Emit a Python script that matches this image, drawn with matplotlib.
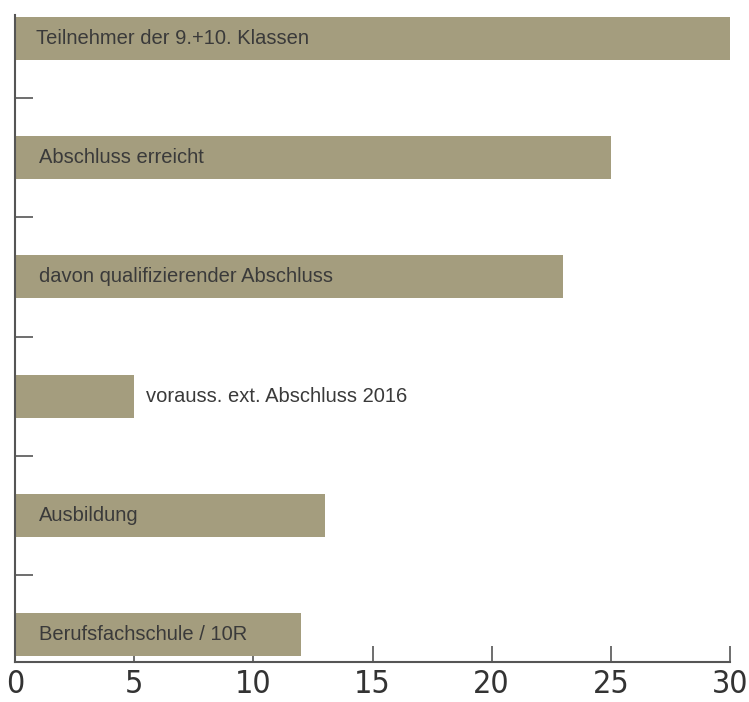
import matplotlib
matplotlib.use("Agg")
import matplotlib.pyplot as plt

categories = ["Teilnehmer der 9.+10. Klassen", "Abschluss erreicht",
              "davon qualifizierender Abschluss", "vorauss. ext. Abschluss 2016",
              "Ausbildung", "Berufsfachschule / 10R"]
values = [30, 25, 23, 5, 13, 12]
xticks = [0, 5, 10, 15, 20, 25, 30]

fig = plt.figure(figsize=(7.49, 7.02), dpi=100)
ax = fig.add_axes([15/749, 1-662/702, 715/749, (662-15)/702])

bar_color = "#a49d7e"
ypos = list(range(len(categories)))
ax.barh(ypos, values, height=0.36, color=bar_color, zorder=2)
ax.set_ylim(5.23, -0.197)
ax.set_xlim(0, 30)

for i, (c, v) in enumerate(zip(categories, values)):
    if v < 8:
        ax.text(v + 0.5, i, c, va="center", ha="left", fontsize=14.5,
                color="#3a3a3a", family="Liberation Sans")
    else:
        ax.text(1.0 if i else 0.9, i, c, va="center", ha="left", fontsize=14.5,
                color="#3a3a3a", family="Liberation Sans", zorder=3)

ax.set_xticks(xticks)
ax.set_xticklabels([str(t) for t in xticks], fontsize=23, color="#333333",
                   family="DejaVu Sans", fontstretch="condensed")
ax.tick_params(axis="x", direction="in", length=11.5, width=1.2, color="#555555", pad=5)
ax.set_yticks([i + 0.5 for i in range(len(categories) - 1)])
ax.set_yticklabels([])
ax.tick_params(axis="y", direction="in", length=13, width=1.2, color="#555555")
for s in ["top", "right"]:
    ax.spines[s].set_visible(False)
for s in ["left", "bottom"]:
    ax.spines[s].set_color("#555555")
    ax.spines[s].set_linewidth(1.5)

fig.savefig("out.png", dpi=100)
